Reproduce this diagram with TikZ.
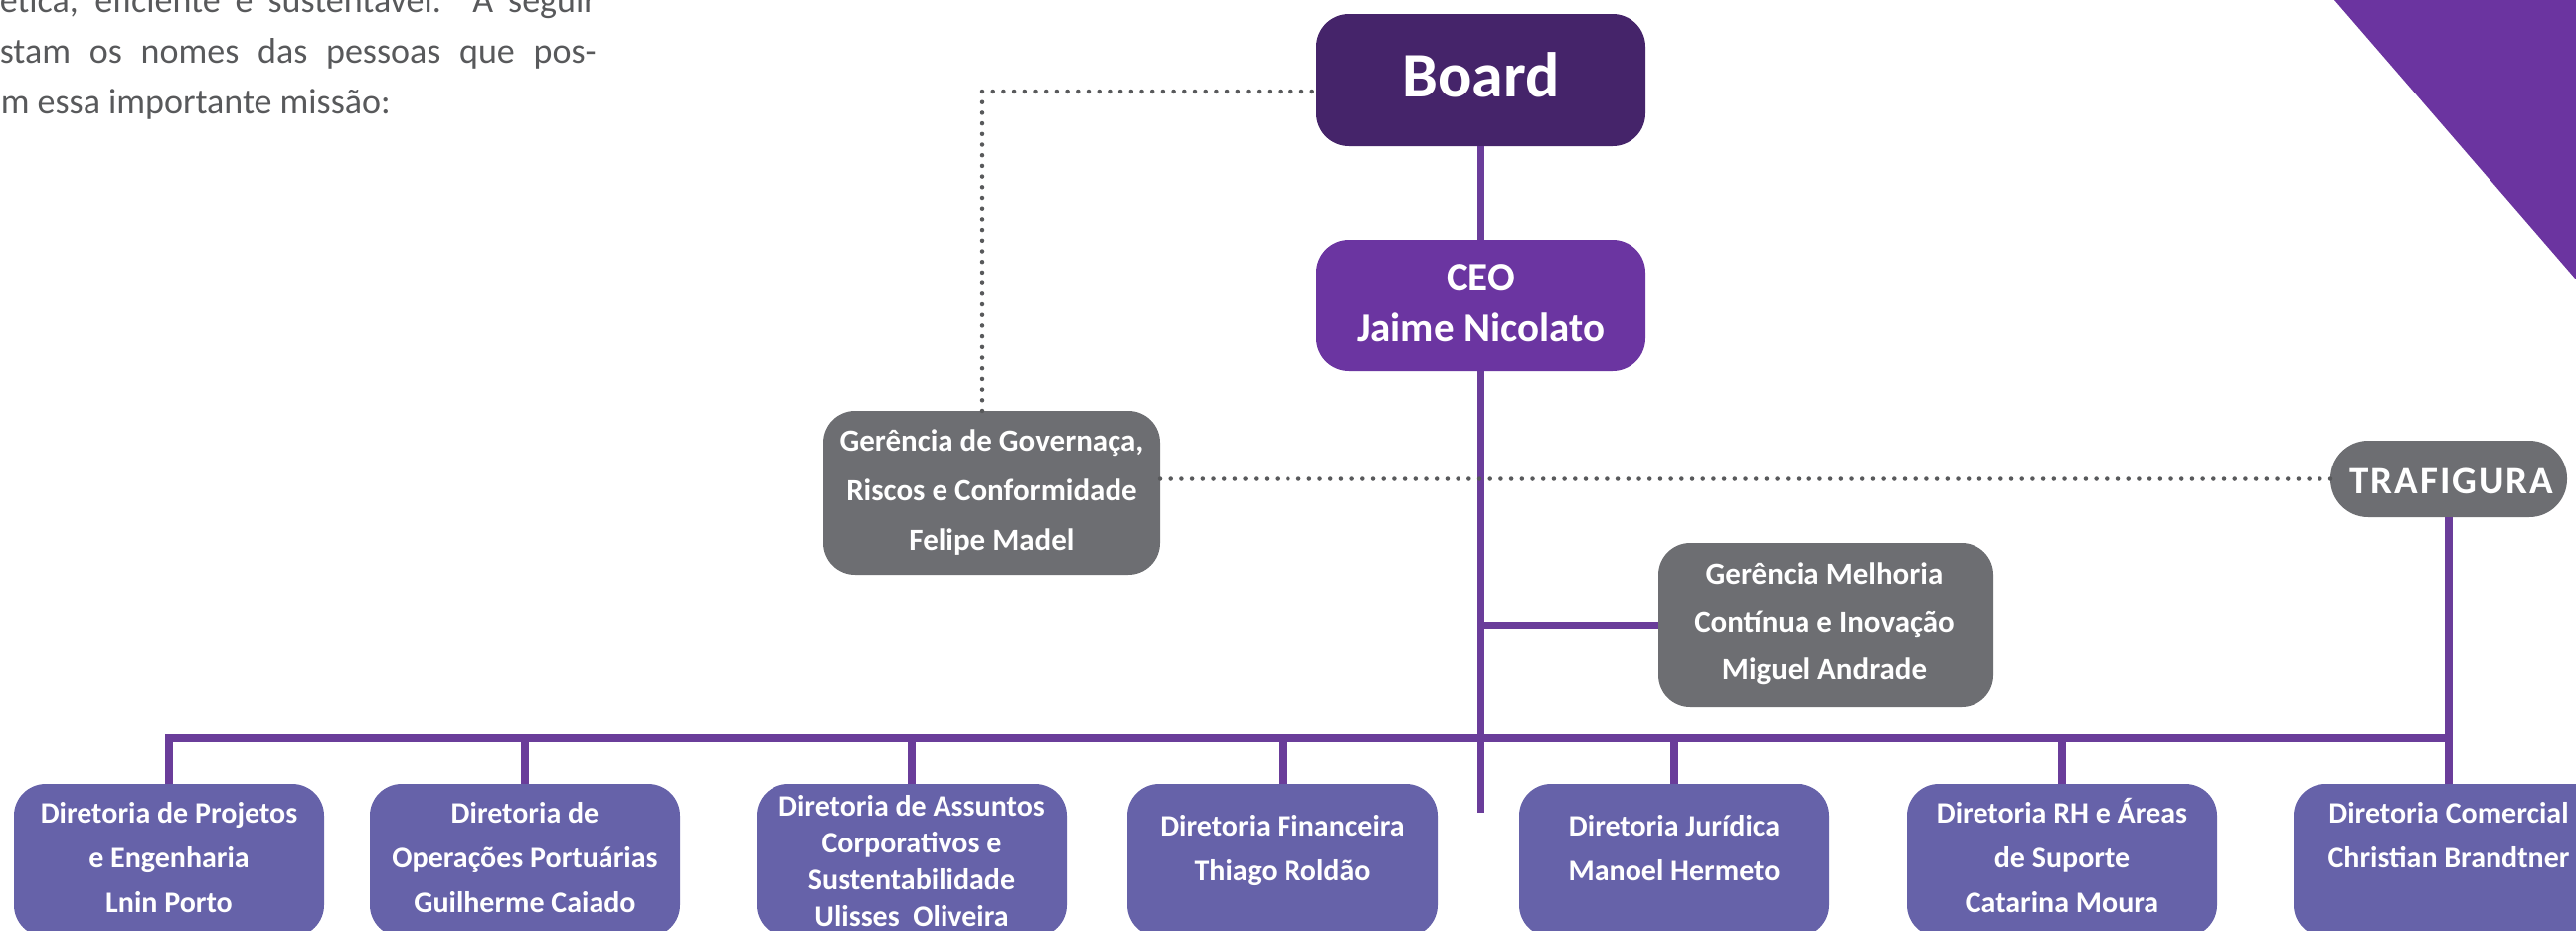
\documentclass[tikz,border=0pt]{standalone}
\usepackage{fontspec}
\setmainfont{Carlito}
\definecolor{boardc}{HTML}{45246A}
\definecolor{ceoc}{HTML}{6B35A1}
\definecolor{tric}{HTML}{6B34A0}
\definecolor{grayc}{HTML}{6D6E72}
\definecolor{dirc}{HTML}{6662A9}
\definecolor{linec}{HTML}{6A3D9A}
\definecolor{dotc}{HTML}{58595B}
\definecolor{paratc}{HTML}{58595B}
\newcommand{\ml}[1]{\begin{tabular}[t]{@{}c@{}}#1\end{tabular}}
\begin{document}
\begin{tikzpicture}[x=1pt,y=-1pt,
  box/.style={rectangle, rounded corners=32pt, inner sep=0pt, outer sep=0pt, draw=none},
  dbox/.style={box, fill=dirc, minimum width=312pt, minimum height=154pt},
  gbox/.style={box, fill=grayc},
  btxt/.style={text=white, inner sep=0pt, anchor=base},
  dtxt/.style={btxt, font=\bfseries\fontsize{30}{45}\selectfont},
  conn/.style={draw=linec, line width=7.5pt},
  dots/.style={draw=dotc, line width=4.5pt, line cap=round, dash pattern=on 0pt off 10.7pt},
  ptxt/.style={text=paratc, inner sep=0pt, font=\fontsize{36}{51}\selectfont}
]
\useasboundingbox (0,0) rectangle (2591,935);

% corner triangle
\fill[tric] (2348,0) -- (2591,0) -- (2591,281) -- cycle;

% paragraph fragment
\node[ptxt, anchor=base east] (p1) at (600,12) {\makebox[600pt][s]{ética, eficiente e sustentável. A seguir}};
\node[ptxt, anchor=base east] (p2) at (600,63) {\makebox[600pt][s]{stam os nomes das pessoas que pos-}};
\node[ptxt, anchor=base east] (p3) at (393,114) {m essa importante missão:};

% boxes
\node[box, fill=boardc, rounded corners=33pt, minimum width=331pt, minimum height=133pt] (board) at (1489.5,80.5) {};
\node[box, fill=ceoc, rounded corners=33pt, minimum width=331pt, minimum height=132pt] (ceo) at (1489.5,307) {};
\node[gbox, minimum width=339pt, minimum height=165pt] (gov) at (997.5,495.5) {};
\node[gbox, minimum width=337pt, minimum height=165pt] (melh) at (1836.5,628.5) {};
\node[gbox, rounded corners=38pt, minimum width=238pt, minimum height=77pt] (traf) at (2463,481.5) {};

\node[dbox] (d1) at (170,865) {};
\node[dbox] (d2) at (528,865) {};
\node[dbox] (d3) at (917,865) {};
\node[dbox] (d4) at (1290,865) {};
\node[dbox] (d5) at (1684,865) {};
\node[dbox] (d6) at (2074,865) {};
\node[dbox] (d7) at (2463,865) {};

% texts
\node[btxt, font=\bfseries\fontsize{64}{70}\selectfont] (boardt) at (1489.5,97) {Board};
\node[btxt, font=\bfseries\fontsize{41}{51}\selectfont] (ceot) at (1489.5,292) {\ml{CEO\\Jaime Nicolato}};
\node[btxt, font=\bfseries\fontsize{31}{50}\selectfont] (govt) at (997.5,453) {\ml{Gerência de Governaça,\\Riscos e Conformidade\\Felipe Madel}};
\node[btxt, font=\bfseries\fontsize{31}{48}\selectfont] (melht) at (1835,587) {\ml{Gerência Melhoria\\Contínua e Inovação\\Miguel Andrade}};
\node[btxt, font=\bfseries\fontsize{39}{45}\selectfont\addfontfeatures{LetterSpace=5}] (traft) at (2466,496) {TRAFIGURA};

\node[dtxt] (d1t) at (170,827) {\ml{Diretoria de Projetos\\e Engenharia\\Lnin Porto}};
\node[dtxt] (d2t) at (528,827) {\ml{Diretoria de\\Operações Portuárias\\Guilherme Caiado}};
\node[dtxt, font=\bfseries\fontsize{30}{37}\selectfont] (d3t) at (917,820) {\ml{Diretoria de Assuntos\\Corporativos e\\Sustentabilidade\\Ulisses\ \ Oliveira}};
\node[dtxt] (d4t) at (1290,840) {\ml{Diretoria Financeira\\Thiago Roldão}};
\node[dtxt] (d5t) at (1684,840) {\ml{Diretoria Jurídica\\Manoel Hermeto}};
\node[dtxt] (d6t) at (2074,827) {\ml{Diretoria RH e Áreas\\de Suporte\\Catarina Moura}};
\node[dtxt] (d7t) at (2463,827) {\ml{Diretoria Comercial\\Christian Brandtner}};

% connectors
\coordinate (ceoend) at (1489.5,817);
\coordinate (govtop) at (988,413);
\coordinate (boardl) at (1324,92);
\draw[conn] (board.south) -- (ceo.north);
\draw[conn] (ceo.south) -- (ceoend);
\draw[conn] (melh.west) -- (melh.west -| ceo.south);
\draw[conn] (d1.north) -- ++(0,-46) -| (traf.south);
\draw[conn] (d7.north) -- (traf.south);
\foreach \n in {d2,d3,d4,d5,d6} {\draw[conn] (\n.north) -- ++(0,-46);}

\draw[dots] (govtop) |- (boardl);
\draw[dots] (traf.west) -- (traf.west -| gov.east);
\end{tikzpicture}
\end{document}
